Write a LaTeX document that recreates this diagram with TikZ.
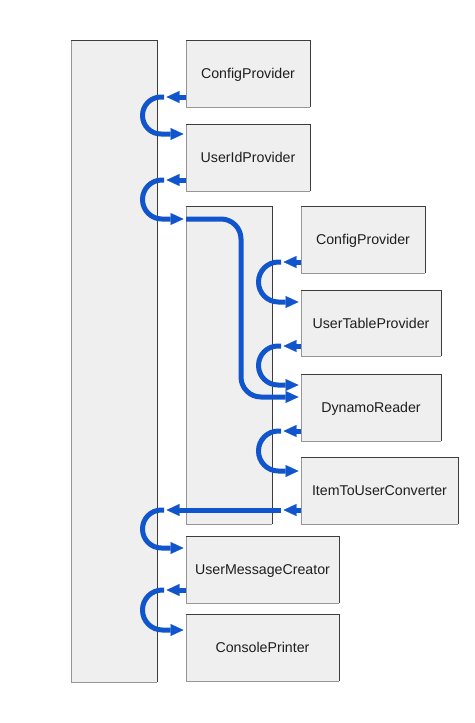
\documentclass[tikz,border=0pt]{standalone}
\usepackage{fontspec}
\setmainfont{Liberation Sans}
\usetikzlibrary{arrows.meta}
\definecolor{flow}{RGB}{17,85,204}
\definecolor{boxfill}{RGB}{239,239,239}
\definecolor{edgedark}{RGB}{60,60,60}
\definecolor{edgelight}{RGB}{150,150,150}
\definecolor{txt}{RGB}{30,30,30}
\tikzset{
  boxst/.style={fill=boxfill, inner sep=0pt, outer sep=0pt, anchor=north west,
    text=txt, font=\fontsize{14.2}{17}\selectfont, text height=10.2pt, text depth=0pt},
  edgelite/.style={draw=edgelight, line width=1pt},
  edgedk/.style={draw=edgedark, line width=1pt},
  conn/.style={draw=flow, line width=5pt,
    -{Triangle[length=13pt,width=12pt,line width=0.1pt,sep=2.5pt]}},
}
\newcommand\pbox[6]{%
  \node[boxst, minimum width=#4pt, minimum height=#5pt] (#1) at (#2,#3) {#6};
  \draw[edgelite] (#1.north west) |- (#1.south east);
  \draw[edgedk] (#1.north west) -| (#1.south east);
}
% #1 source node, #2 target node, #3 upper y, #4 lower y, #5 tip x coord, #6 curve x coord, #7 radius
\newcommand\cconn[7]{%
  \draw[conn] (#1.west |- 0,#3) -- (#5 |- 0,#3);
  \draw[conn, rounded corners=#7pt] (#5 |- 0,#3) -- (#6 |- 0,#3) -- (#6 |- 0,#4) -- (#2.west |- 0,#4);
}
\begin{document}
\begin{tikzpicture}[x=1pt, y=-1pt]
\useasboundingbox (0,0) rectangle (474,723);
\fill[white] (0,0) rectangle (474,723);
% boxes
\pbox{bar1}{71}{40}{86}{642}{}
\pbox{cfg1}{186}{40}{124}{67}{ConfigProvider}
\pbox{uid}{186}{124}{124}{67}{UserIdProvider}
\pbox{bar2}{186}{206}{86}{318}{}
\pbox{cfg2}{301}{206}{124}{67}{ConfigProvider}
\pbox{utp}{301}{290}{140}{66}{UserTableProvider}
\pbox{dyn}{301}{374}{140}{67}{DynamoReader}
\pbox{itu}{301}{457}{157}{67}{ItemToUserConverter}
\pbox{umc}{186}{536}{153}{67}{UserMessageCreator}
\pbox{cpr}{186}{614}{153}{67}{ConsolePrinter}
% reference x levels
\coordinate (b1tip) at (164,0);
\coordinate (b1c) at (142.5,0);
\coordinate (b2tip) at (281,0);
\coordinate (b2c) at (258.5,0);
\coordinate (vx) at (241,0);
% connectors
\cconn{cfg1}{uid}{97}{134}{b1tip}{b1c}{18.4}
\cconn{uid}{bar2}{180}{219}{b1tip}{b1c}{19.4}
\draw[conn, rounded corners=20pt] (bar2.west |- 0,219) -- (vx |- 0,219) -- (vx |- 0,397) -- (dyn.west |- 0,397);
\cconn{cfg2}{utp}{262}{302}{b2tip}{b2c}{19.9}
\cconn{utp}{dyn}{346}{385}{b2tip}{b2c}{19.4}
\cconn{dyn}{itu}{431}{471}{b2tip}{b2c}{19.9}
\draw[conn] (itu.west |- 0,510) -- (b2tip |- 0,510);
\draw[conn] (b2tip |- 0,510) -- (b1tip |- 0,510);
\draw[conn, rounded corners=18.9pt] (b1tip |- 0,510) -- (b1c |- 0,510) -- (b1c |- 0,548) -- (umc.west |- 0,548);
\cconn{umc}{cpr}{590}{630}{b1tip}{b1c}{19.9}
\end{tikzpicture}
\end{document}
